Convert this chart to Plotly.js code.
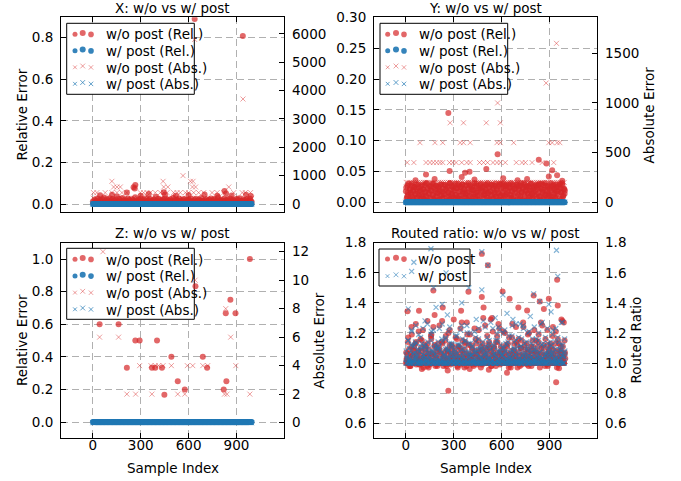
<!DOCTYPE html>
<html><head><meta charset="utf-8">
<script src="https://cdn.plot.ly/plotly-3.0.1.min.js"></script>
<style>html,body{margin:0;padding:0;background:#fff}</style>
</head><body><div id="chart" style="width:681px;height:481px"></div>
<script>
// ---------------- DATA ----------------
const xTickVals = [0, 300, 600, 900];
const panelTitles = ['X: w/o vs w/ post', 'Y: w/o vs w/ post', 'Z: w/o vs w/ post', 'Routed ratio: w/o vs w/ post'];

// sample indices for the dense clouds
const sampleIdx = [
0,5,10,15,20,25,30,35,40,45,50,55,60,65,70,75,80,85,90,95,
100,105,110,115,120,125,130,135,140,145,150,155,160,165,170,175,180,185,190,195,
200,205,210,215,220,225,230,235,240,245,250,255,260,265,270,275,280,285,290,295,
300,305,310,315,320,325,330,335,340,345,350,355,360,365,370,375,380,385,390,395,
400,405,410,415,420,425,430,435,440,445,450,455,460,465,470,475,480,485,490,495,
500,505,510,515,520,525,530,535,540,545,550,555,560,565,570,575,580,585,590,595,
600,605,610,615,620,625,630,635,640,645,650,655,660,665,670,675,680,685,690,695,
700,705,710,715,720,725,730,735,740,745,750,755,760,765,770,775,780,785,790,795,
800,805,810,815,820,825,830,835,840,845,850,855,860,865,870,875,880,885,890,895,
900,905,910,915,920,925,930,935,940,945,950,955,960,965,970,975,980,985,990,995];
const sampleIdxB = [
2,7,12,17,22,27,32,37,42,47,52,57,62,67,72,77,82,87,92,97,
102,107,112,117,122,127,132,137,142,147,152,157,162,167,172,177,182,187,192,197,
202,207,212,217,222,227,232,237,242,247,252,257,262,267,272,277,282,287,292,297,
302,307,312,317,322,327,332,337,342,347,352,357,362,367,372,377,382,387,392,397,
402,407,412,417,422,427,432,437,442,447,452,457,462,467,472,477,482,487,492,497,
502,507,512,517,522,527,532,537,542,547,552,557,562,567,572,577,582,587,592,597,
602,607,612,617,622,627,632,637,642,647,652,657,662,667,672,677,682,687,692,697,
702,707,712,717,722,727,732,737,742,747,752,757,762,767,772,777,782,787,792,797,
802,807,812,817,822,827,832,837,842,847,852,857,862,867,872,877,882,887,892,897,
902,907,912,917,922,927,932,937,942,947,952,957,962,967,972,977,982,987,992,997];
const sampleIdxC = [
4,9,14,19,24,29,34,39,44,49,54,59,64,69,74,79,84,89,94,99,
104,109,114,119,124,129,134,139,144,149,154,159,164,169,174,179,184,189,194,199,
204,209,214,219,224,229,234,239,244,249,254,259,264,269,274,279,284,289,294,299,
304,309,314,319,324,329,334,339,344,349,354,359,364,369,374,379,384,389,394,399,
404,409,414,419,424,429,434,439,444,449,454,459,464,469,474,479,484,489,494,499,
504,509,514,519,524,529,534,539,544,549,554,559,564,569,574,579,584,589,594,599,
604,609,614,619,624,629,634,639,644,649,654,659,664,669,674,679,684,689,694,699,
704,709,714,719,724,729,734,739,744,749,754,759,764,769,774,779,784,789,794,799,
804,809,814,819,824,829,834,839,844,849,854,859,864,869,874,879,884,889,894,899,
904,909,914,919,924,929,934,939,944,949,954,959,964,969,974,979,984,989,994,999];

// w/ post errors (Rel. and Abs.) are all zero
const wPostErr = [
0,0,0,0,0,0,0,0,0,0,0,0,0,0,0,0,0,0,0,0, 0,0,0,0,0,0,0,0,0,0,0,0,0,0,0,0,0,0,0,0,
0,0,0,0,0,0,0,0,0,0,0,0,0,0,0,0,0,0,0,0, 0,0,0,0,0,0,0,0,0,0,0,0,0,0,0,0,0,0,0,0,
0,0,0,0,0,0,0,0,0,0,0,0,0,0,0,0,0,0,0,0, 0,0,0,0,0,0,0,0,0,0,0,0,0,0,0,0,0,0,0,0,
0,0,0,0,0,0,0,0,0,0,0,0,0,0,0,0,0,0,0,0, 0,0,0,0,0,0,0,0,0,0,0,0,0,0,0,0,0,0,0,0,
0,0,0,0,0,0,0,0,0,0,0,0,0,0,0,0,0,0,0,0, 0,0,0,0,0,0,0,0,0,0,0,0,0,0,0,0,0,0,0,0];

// X: w/o post relative error
const xRelWo = [
0.012,0.004,0.021,0.008,0.017,0.003,0.026,0.011,0.006,0.019,0.014,0.002,0.023,0.009,0.031,0.005,0.016,0.010,0.022,0.007,
0.013,0.028,0.004,0.018,0.009,0.024,0.001,0.015,0.020,0.006,0.036,0.012,0.008,0.025,0.003,0.017,0.011,0.029,0.005,0.014,
0.021,0.007,0.016,0.010,0.027,0.004,0.019,0.013,0.008,0.023,0.002,0.018,0.011,0.032,0.006,0.015,0.009,0.022,0.013,0.004,
0.026,0.010,0.017,0.005,0.020,0.012,0.008,0.028,0.003,0.016,0.019,0.007,0.024,0.011,0.014,0.004,0.021,0.009,0.018,0.035,
0.006,0.013,0.025,0.010,0.002,0.019,0.015,0.007,0.022,0.012,0.027,0.005,0.017,0.009,0.020,0.014,0.003,0.023,0.011,0.016,
0.008,0.030,0.012,0.005,0.018,0.021,0.009,0.014,0.026,0.004,0.016,0.011,0.019,0.007,0.024,0.013,0.002,0.020,0.010,0.017,
0.022,0.006,0.015,0.027,0.009,0.013,0.004,0.019,0.012,0.025,0.007,0.017,0.010,0.021,0.003,0.016,0.029,0.008,0.014,0.011,
0.018,0.005,0.023,0.012,0.016,0.009,0.020,0.003,0.026,0.014,0.007,0.019,0.011,0.024,0.006,0.015,0.010,0.033,0.004,0.017,
0.013,0.021,0.008,0.016,0.002,0.025,0.011,0.018,0.006,0.022,0.014,0.009,0.027,0.004,0.017,0.012,0.020,0.007,0.015,0.010,
0.024,0.003,0.019,0.011,0.028,0.007,0.016,0.013,0.005,0.021,0.010,0.018,0.004,0.023,0.012,0.015,0.008,0.026,0.014,0.009];
const xRelOutIdx = [45,120,213,255,262,266,300,350,444,452,520,600,638,700,780,825,835,870,940,960,990];
const xRelOutVal = [0.042,0.045,0.055,0.080,0.075,0.091,0.040,0.048,0.056,0.045,0.040,0.043,0.890,0.046,0.040,0.062,0.050,0.041,0.808,0.045,0.038];
// X: w/o post absolute error (non-zero samples)
const xAbsIdx = [
3,20,38,55,70,88,105,133,160,178,196,220,240,258,280,305,325,347,370,398,415,430,455,478,500,520,540,560,588,610,650,672,700,720,740,765,800,830,860,890,910,925,950,975,995,
4,25,77,119,151,182,213,297,318,339,360,391,423,444,465,506,528,548,580,600,632,663,695,747,779,820,883,936,956,988,
130,151,172,266,444,470,624,644,852,
119,440,612,628,
565,941,638];
const xAbsVal = [
200,200,200,200,200,200,200,200,200,200,200,200,200,200,200,200,200,200,200,200,200,200,200,200,200,200,200,200,200,200,200,200,200,200,200,200,200,200,200,200,200,200,200,200,200,
400,400,400,400,400,400,400,400,400,400,400,400,400,400,400,400,400,400,400,400,400,400,400,400,400,400,400,400,400,400,
600,600,600,600,600,600,600,600,600,
800,800,800,800,
1000,3700,5800];

// Y: w/o post relative error
const yRelWo = [
0.018,0.006,0.027,0.012,0.003,0.022,0.015,0.030,0.009,0.020,0.004,0.025,0.013,0.029,0.007,0.017,0.024,0.002,0.019,0.011,
0.028,0.010,0.021,0.005,0.016,0.031,0.008,0.023,0.014,0.001,0.026,0.019,0.006,0.030,0.012,0.024,0.003,0.018,0.027,0.009,
0.015,0.025,0.004,0.020,0.029,0.011,0.017,0.007,0.028,0.013,0.022,0.002,0.026,0.016,0.009,0.031,0.005,0.021,0.014,0.024,
0.007,0.019,0.030,0.012,0.023,0.003,0.027,0.010,0.018,0.025,0.006,0.029,0.015,0.021,0.008,0.013,0.028,0.004,0.022,0.017,
0.026,0.002,0.014,0.024,0.009,0.020,0.031,0.006,0.016,0.027,0.011,0.019,0.003,0.023,0.030,0.010,0.017,0.025,0.007,0.013,
0.021,0.028,0.008,0.015,0.025,0.005,0.018,0.029,0.012,0.004,0.022,0.016,0.027,0.009,0.020,0.002,0.026,0.014,0.030,0.011,
0.004,0.017,0.023,0.030,0.010,0.026,0.013,0.001,0.019,0.028,0.007,0.024,0.011,0.018,0.029,0.006,0.021,0.015,0.003,0.025,
0.029,0.012,0.020,0.007,0.027,0.016,0.003,0.022,0.031,0.009,0.018,0.025,0.005,0.014,0.026,0.019,0.010,0.030,0.013,0.008,
0.016,0.024,0.002,0.027,0.013,0.021,0.028,0.010,0.005,0.023,0.030,0.015,0.020,0.008,0.012,0.027,0.004,0.018,0.024,0.011,
0.022,0.009,0.026,0.017,0.004,0.029,0.014,0.020,0.011,0.025,0.003,0.019,0.028,0.006,0.023,0.016,0.031,0.009,0.021,0.014];
const yRelWoB = [
0.024,0.009,0.016,0.030,0.003,0.020,0.012,0.027,0.006,0.018,0.025,0.001,0.014,0.022,0.008,0.029,0.011,0.019,0.004,0.026,
0.013,0.021,0.005,0.028,0.017,0.010,0.031,0.002,0.023,0.015,0.007,0.026,0.019,0.012,0.030,0.004,0.021,0.009,0.027,0.016,
0.003,0.025,0.018,0.011,0.029,0.006,0.022,0.014,0.001,0.028,0.020,0.008,0.024,0.016,0.005,0.031,0.013,0.026,0.010,0.019,
0.027,0.004,0.012,0.023,0.008,0.030,0.017,0.005,0.025,0.011,0.029,0.018,0.002,0.021,0.014,0.027,0.007,0.015,0.031,0.006,
0.010,0.028,0.021,0.003,0.019,0.013,0.026,0.009,0.030,0.016,0.004,0.023,0.011,0.028,0.020,0.001,0.025,0.012,0.017,0.029,
0.018,0.007,0.031,0.015,0.024,0.002,0.012,0.028,0.019,0.006,0.027,0.013,0.030,0.009,0.022,0.016,0.004,0.029,0.010,0.023,
0.030,0.014,0.006,0.026,0.011,0.021,0.029,0.016,0.003,0.024,0.012,0.031,0.007,0.019,0.027,0.010,0.023,0.001,0.028,0.015,
0.005,0.022,0.027,0.010,0.031,0.017,0.004,0.025,0.013,0.029,0.020,0.003,0.026,0.015,0.008,0.024,0.030,0.018,0.006,0.021,
0.026,0.011,0.019,0.029,0.006,0.024,0.015,0.030,0.009,0.002,0.022,0.017,0.028,0.005,0.031,0.012,0.020,0.027,0.014,0.003,
0.012,0.031,0.004,0.020,0.027,0.009,0.023,0.007,0.029,0.018,0.014,0.025,0.001,0.030,0.016,0.006,0.028,0.011,0.022,0.019];
const yRelOutIdx = [60,126,180,266,274,350,371,399,430,504,575,610,700,760,833,881,896,917,948,980];
const yRelOutVal = [0.036,0.045,0.038,0.145,0.051,0.041,0.048,0.0495,0.037,0.054,0.078,0.039,0.036,0.038,0.069,0.063,0.042,0.052,0.044,0.035];
// Y: w/o post absolute error (non-zero samples)
const yAbsIdx = [
2,12,25,37,48,60,72,85,97,110,120,133,145,158,170,182,195,205,218,230,242,255,268,280,292,305,318,330,342,355,368,380,393,405,418,430,442,455,468,480,
492,505,518,530,542,555,568,580,593,605,618,630,643,655,668,680,692,705,718,730,742,755,768,780,793,805,818,830,843,855,868,880,893,905,918,930,943,955,968,980,993,
8,50,126,151,172,193,214,231,273,294,315,350,382,403,462,487,512,546,571,592,623,692,728,749,791,854,927,
88,182,231,340,361,403,571,592,676,896,917,948,965,
277,361,504,592,
575,273,879,944];
const yAbsVal = [
200,200,200,200,200,200,200,200,200,200,200,200,200,200,200,200,200,200,200,200,200,200,200,200,200,200,200,200,200,200,200,200,200,200,200,200,200,200,200,200,
200,200,200,200,200,200,200,200,200,200,200,200,200,200,200,200,200,200,200,200,200,200,200,200,200,200,200,200,200,200,200,200,200,200,200,200,200,200,200,200,200,
400,400,400,400,400,400,400,400,400,400,400,400,400,400,400,400,400,400,400,400,400,400,400,400,400,400,400,
600,600,600,600,600,600,600,600,600,600,600,600,600,
800,800,800,800,
1000,1200,1200,1600];

// Z: w/o post errors (non-zero samples)
const zRelIdx = [42,161,213,266,293,370,391,402,433,448,492,532,576,643,689,716,820,833,837,862,894,984];
const zRelVal = [0.6,0.6,0.333,0.5,0.5,0.333,0.333,0.5,0.333,0.167,0.4,0.25,0.2,0.833,0.4,0.333,0.2,0.667,0.25,0.75,0.667,1.0];
const zAbsIdx = [42,63,161,213,268,293,364,370,391,412,440,492,532,576,592,626,641,689,720,825,833,841,864,896,984];
const zAbsVal = [6,12,6,2,2,4,4,2,4,4,4,4,2,2,4,4,10,4,4,2,8,2,6,4,2];

// Routed ratio, w/o post (at sampleIdx, sampleIdxB, sampleIdxC)
const ratioWo = [
1.00,1.03,1.00,1.17,0.98,1.00,1.06,1.24,1.00,1.09,1.01,1.00,1.13,0.99,1.05,1.00,1.21,1.02,1.00,1.08,
1.15,1.00,0.97,1.04,1.00,1.11,1.00,1.28,1.06,1.00,0.99,1.02,1.19,1.00,1.07,1.00,1.12,0.98,1.03,1.00,
1.00,1.09,1.25,1.00,1.01,1.14,1.00,0.98,1.05,1.00,1.18,1.00,1.03,1.08,1.00,1.22,0.99,1.00,1.11,1.04,
1.02,1.00,1.07,1.00,1.16,0.97,1.00,1.04,1.10,1.00,1.27,1.01,1.00,1.06,1.13,1.00,0.98,1.19,1.00,1.03,
1.00,1.12,1.00,1.05,0.99,1.00,1.23,1.08,1.00,1.02,1.00,1.15,1.04,1.00,0.97,1.09,1.00,1.30,1.01,1.00,
1.06,1.00,1.18,1.00,1.03,1.10,1.00,0.98,1.00,1.21,1.05,1.00,1.01,1.14,1.00,1.07,1.26,1.00,0.99,1.11,
1.00,1.04,1.00,1.09,1.20,1.00,1.02,1.00,1.13,0.97,1.00,1.06,1.00,1.17,1.03,1.00,1.08,1.00,1.24,1.01,
1.12,1.00,1.05,0.98,1.00,1.15,1.00,1.27,1.03,1.00,1.09,1.00,0.99,1.19,1.00,1.04,1.00,1.11,1.06,1.00,
1.00,1.22,1.01,1.00,1.07,1.00,1.14,1.03,0.97,1.00,1.10,1.25,1.00,1.02,1.00,1.16,1.05,1.00,0.98,1.08,
1.03,1.00,1.11,1.00,1.18,1.06,1.00,1.00,1.21,1.01,1.00,0.99,1.13,1.00,1.08,1.29,1.00,1.04,1.00,1.15];
const ratioWoB = [
1.07,1.00,1.14,1.00,1.02,0.98,1.00,1.19,1.05,1.00,1.11,1.00,1.26,1.03,1.00,1.08,0.99,1.00,1.16,1.01,
1.00,1.22,1.04,1.00,1.09,1.00,1.02,1.13,0.97,1.00,1.06,1.18,1.00,1.01,1.24,1.00,1.05,1.00,1.10,0.98,
1.13,1.00,1.01,1.07,1.00,1.28,1.00,1.04,1.00,1.15,0.99,1.09,1.00,1.20,1.02,1.00,1.06,1.12,1.00,1.00,
1.00,1.05,1.17,1.00,0.98,1.02,1.11,1.00,1.23,1.00,1.08,1.00,1.03,0.97,1.14,1.00,1.27,1.01,1.00,1.06,
1.19,1.00,1.04,1.10,1.00,1.01,1.00,1.16,1.06,0.99,1.00,1.22,1.00,1.08,1.03,1.00,1.13,1.00,1.05,1.25,
1.00,1.09,1.00,1.02,1.14,1.00,1.29,0.98,1.00,1.07,1.11,1.00,1.04,1.00,1.18,1.01,1.00,1.23,1.06,1.00,
1.04,1.00,1.21,1.00,1.06,1.12,1.00,1.01,1.00,1.17,1.03,0.97,1.00,1.26,1.00,1.09,1.00,1.05,1.14,1.00,
1.00,1.16,1.02,1.00,1.10,0.99,1.00,1.24,1.05,1.00,1.01,1.13,1.00,1.07,1.20,1.00,1.03,0.98,1.00,1.11,
1.08,1.00,1.00,1.15,1.03,1.00,1.19,1.00,1.06,1.27,1.00,1.02,1.12,1.00,0.98,1.05,1.00,1.22,1.00,1.09,
1.00,1.13,1.05,1.00,1.24,1.00,1.02,1.08,1.00,0.97,1.16,1.00,1.04,1.00,1.11,1.00,1.28,1.03,1.00,1.07];
const ratioWoC = [
1.02,1.06,1.00,1.09,1.03,0.98,1.11,1.01,1.05,1.00,1.08,1.02,1.14,1.04,1.00,1.07,1.01,0.99,1.10,1.03,
1.05,1.00,1.12,1.02,1.07,1.01,0.98,1.04,1.09,1.00,1.03,1.16,1.01,1.06,1.00,1.11,1.02,1.05,0.99,1.08,
1.01,1.10,1.03,1.00,1.06,1.13,1.02,1.00,1.04,1.08,0.98,1.01,1.07,1.03,1.12,1.00,1.05,1.09,1.02,1.00,
1.08,1.02,1.00,1.05,1.11,1.00,1.03,1.07,0.99,1.02,1.15,1.04,1.00,1.09,1.01,1.06,1.00,1.03,1.12,1.05,
1.00,1.04,1.09,1.01,0.98,1.06,1.02,1.13,1.00,1.05,1.08,1.00,1.03,1.11,1.02,0.99,1.07,1.01,1.04,1.10,
1.03,1.00,1.06,1.12,1.02,1.00,1.08,1.04,1.01,1.00,1.10,1.05,0.98,1.03,1.14,1.00,1.02,1.07,1.01,1.05,
1.09,1.01,1.03,1.00,1.07,1.02,1.11,1.00,1.05,1.03,0.99,1.08,1.02,1.00,1.06,1.13,1.01,1.04,1.00,1.02,
1.00,1.07,1.02,1.10,1.00,1.04,1.01,1.06,1.12,1.00,1.03,1.05,1.09,0.98,1.02,1.00,1.08,1.03,1.15,1.01,
1.04,1.00,1.08,1.02,1.05,1.11,1.00,1.03,1.01,1.07,1.00,1.02,1.10,1.04,1.00,1.06,0.99,1.12,1.02,1.05,
1.01,1.06,1.00,1.04,1.09,1.02,1.00,1.13,1.03,1.05,1.01,1.08,1.00,1.02,1.07,1.04,1.11,1.00,1.06,1.03];
// Routed ratio, w/ post (at sampleIdx, sampleIdxB, sampleIdxC)
const ratioW = [
1.00,1.04,1.00,1.15,1.00,1.02,1.08,1.22,1.00,1.11,1.00,1.03,1.14,1.00,1.06,1.00,1.19,1.01,1.00,1.09,
1.13,1.00,1.00,1.05,1.02,1.12,1.00,1.26,1.07,1.00,1.00,1.03,1.21,1.00,1.08,1.01,1.10,1.00,1.04,1.00,
1.01,1.10,1.23,1.00,1.00,1.16,1.02,1.00,1.06,1.00,1.17,1.00,1.04,1.09,1.00,1.24,1.00,1.01,1.12,1.05,
1.03,1.00,1.08,1.00,1.18,1.00,1.01,1.05,1.12,1.00,1.25,1.02,1.00,1.07,1.14,1.00,1.00,1.20,1.01,1.04,
1.00,1.13,1.01,1.06,1.00,1.00,1.21,1.09,1.00,1.03,1.00,1.16,1.05,1.00,1.00,1.10,1.02,1.28,1.00,1.00,
1.07,1.00,1.17,1.01,1.04,1.11,1.00,1.00,1.02,1.23,1.06,1.00,1.00,1.15,1.01,1.08,1.24,1.00,1.00,1.12,
1.01,1.05,1.00,1.10,1.22,1.00,1.03,1.00,1.14,1.00,1.02,1.07,1.00,1.18,1.04,1.00,1.09,1.01,1.26,1.00,
1.11,1.00,1.06,1.00,1.01,1.16,1.00,1.25,1.04,1.00,1.10,1.02,1.00,1.20,1.00,1.05,1.01,1.13,1.07,1.00,
1.00,1.24,1.02,1.00,1.08,1.01,1.15,1.04,1.00,1.00,1.12,1.27,1.00,1.03,1.00,1.17,1.06,1.01,1.00,1.09,
1.04,1.00,1.12,1.01,1.19,1.07,1.00,1.02,1.23,1.00,1.00,1.00,1.14,1.01,1.09,1.27,1.00,1.05,1.00,1.16];
const ratioWB = [
1.08,1.00,1.15,1.01,1.03,1.00,1.00,1.21,1.06,1.00,1.12,1.02,1.25,1.04,1.00,1.09,1.00,1.01,1.17,1.02,
1.00,1.23,1.05,1.00,1.10,1.01,1.03,1.14,1.00,1.00,1.07,1.19,1.02,1.00,1.22,1.00,1.06,1.01,1.11,1.00,
1.14,1.00,1.02,1.08,1.00,1.26,1.01,1.05,1.00,1.16,1.00,1.10,1.00,1.21,1.03,1.00,1.07,1.13,1.01,1.00,
1.00,1.06,1.18,1.00,1.00,1.03,1.12,1.01,1.22,1.00,1.09,1.00,1.04,1.00,1.15,1.02,1.25,1.00,1.00,1.07,
1.20,1.00,1.05,1.11,1.01,1.02,1.00,1.17,1.07,1.00,1.00,1.23,1.01,1.09,1.04,1.00,1.14,1.00,1.06,1.24,
1.01,1.10,1.00,1.03,1.15,1.00,1.27,1.00,1.02,1.08,1.12,1.00,1.05,1.00,1.19,1.02,1.00,1.22,1.07,1.00,
1.05,1.01,1.20,1.00,1.07,1.13,1.00,1.02,1.00,1.18,1.04,1.00,1.01,1.25,1.00,1.10,1.00,1.06,1.15,1.01,
1.00,1.17,1.03,1.00,1.11,1.00,1.02,1.23,1.06,1.00,1.02,1.14,1.00,1.08,1.21,1.00,1.04,1.00,1.01,1.12,
1.09,1.00,1.01,1.16,1.04,1.00,1.20,1.00,1.07,1.26,1.00,1.03,1.13,1.01,1.00,1.06,1.00,1.23,1.02,1.10,
1.00,1.14,1.06,1.00,1.22,1.01,1.03,1.09,1.00,1.00,1.17,1.02,1.05,1.00,1.12,1.00,1.27,1.04,1.00,1.08];
const ratioWC = [
1.03,1.05,1.01,1.10,1.02,1.00,1.12,1.02,1.06,1.01,1.07,1.03,1.13,1.05,1.00,1.08,1.02,1.00,1.11,1.04,
1.06,1.01,1.11,1.03,1.08,1.02,1.00,1.05,1.10,1.01,1.04,1.15,1.02,1.07,1.00,1.12,1.03,1.06,1.00,1.09,
1.02,1.11,1.04,1.01,1.07,1.14,1.03,1.00,1.05,1.09,1.00,1.02,1.08,1.04,1.13,1.01,1.06,1.10,1.03,1.00,
1.09,1.03,1.01,1.06,1.12,1.00,1.04,1.08,1.00,1.03,1.16,1.05,1.01,1.10,1.02,1.07,1.00,1.04,1.13,1.06,
1.01,1.05,1.10,1.02,1.00,1.07,1.03,1.14,1.01,1.06,1.09,1.00,1.04,1.12,1.03,1.00,1.08,1.02,1.05,1.11,
1.04,1.01,1.07,1.13,1.03,1.00,1.09,1.05,1.02,1.00,1.11,1.06,1.00,1.04,1.15,1.01,1.03,1.08,1.02,1.06,
1.10,1.02,1.04,1.00,1.08,1.03,1.12,1.01,1.06,1.04,1.00,1.09,1.03,1.01,1.07,1.14,1.02,1.05,1.00,1.03,
1.01,1.08,1.03,1.11,1.00,1.05,1.02,1.07,1.13,1.01,1.04,1.06,1.10,1.00,1.03,1.01,1.09,1.04,1.16,1.02,
1.05,1.01,1.09,1.03,1.06,1.12,1.00,1.04,1.02,1.08,1.01,1.03,1.11,1.05,1.00,1.07,1.00,1.13,1.03,1.06,
1.02,1.07,1.01,1.05,1.10,1.03,1.00,1.14,1.04,1.06,1.02,1.09,1.01,1.03,1.08,1.05,1.12,1.00,1.07,1.04];
const ratioWoOutIdx = [10,82,100,172,180,231,262,266,300,346,392,400,476,476,487,514,520,540,606,634,650,700,705,760,801,839,865,896,942,948,952,960,990];
const ratioWoOutVal = [1.345,1.348,0.96,1.482,1.32,1.37,0.95,0.816,1.29,1.348,1.474,0.96,1.726,1.44,1.37,1.65,0.955,1.30,1.476,0.935,1.427,0.97,1.37,1.35,1.449,1.41,1.36,1.427,0.872,1.554,1.382,0.965,1.27];
const ratioWOutIdx = [15,36,50,120,157,174,189,227,252,260,350,395,441,476,476,514,560,608,634,671,717,780,801,839,896,910,944,952];
const ratioWOutVal = [1.36,1.61,1.67,1.28,1.76,1.50,1.37,1.39,1.60,1.32,1.40,1.50,1.29,1.74,1.487,1.65,1.30,1.453,1.33,1.29,1.26,1.31,1.46,1.41,1.39,1.34,1.75,1.576];

// ---------------- STYLE / LAYOUT ----------------
const FONT = 'DejaVu Sans';
const FS = 13.5;
const RED = '214,39,40', BLUE = '31,119,180';
const W = 681, H = 481;
const XR = [-200, 1200];
const YR = {tl:[-0.0385, 0.898], tl2:[-282, 6581], tr:[-0.0157, 0.3001], tr2:[-97.7, 1862],
            bl:[-0.1, 1.1], bl2:[-1.1, 12.63], br:[0.5, 1.8001]};

function dots(x, y, xa, ya, rgb, a, size) {
  return {type:'scatter', mode:'markers', x:x, y:y, xaxis:xa, yaxis:ya, hoverinfo:'skip', showlegend:false,
    marker:{color:'rgba('+rgb+','+a+')', size:size, line:{width:0}}};
}
function crosses(x, y, xa, ya, rgb, a, size, lw) {
  return {type:'scatter', mode:'markers', x:x, y:y, xaxis:xa, yaxis:ya, hoverinfo:'skip', showlegend:false,
    marker:{symbol:'x-thin-open', color:'rgba('+rgb+','+a+')', size:size, line:{width:lw, color:'rgba('+rgb+','+a+')'}}};
}

const traces = [
  // X panel
  dots(sampleIdx, xRelWo, 'x', 'y', RED, 0.7, 6),
  dots(xRelOutIdx, xRelOutVal, 'x', 'y', RED, 0.7, 6),
  dots(sampleIdx, wPostErr, 'x', 'y', BLUE, 0.9, 6),
  crosses(xAbsIdx, xAbsVal, 'x', 'y2', RED, 0.45, 5, 1),
  crosses(sampleIdx, wPostErr, 'x', 'y2', BLUE, 0.7, 5, 1),
  // Y panel
  dots(sampleIdx, yRelWo, 'x2', 'y3', RED, 0.7, 6),
  dots(sampleIdxB, yRelWoB, 'x2', 'y3', RED, 0.7, 6),
  dots(yRelOutIdx, yRelOutVal, 'x2', 'y3', RED, 0.7, 6),
  dots(sampleIdx, wPostErr, 'x2', 'y3', BLUE, 0.9, 6),
  crosses(yAbsIdx, yAbsVal, 'x2', 'y4', RED, 0.45, 5, 1),
  crosses(sampleIdx, wPostErr, 'x2', 'y4', BLUE, 0.7, 5, 1),
  // Z panel
  dots(zRelIdx, zRelVal, 'x3', 'y5', RED, 0.7, 6),
  dots(sampleIdx, wPostErr, 'x3', 'y5', BLUE, 0.9, 6),
  crosses(zAbsIdx, zAbsVal, 'x3', 'y6', RED, 0.45, 5, 1),
  crosses(sampleIdx, wPostErr, 'x3', 'y6', BLUE, 0.7, 5, 1),
  // Routed ratio panel
  dots(sampleIdx, ratioWo, 'x4', 'y7', RED, 0.7, 6),
  dots(sampleIdxB, ratioWoB, 'x4', 'y7', RED, 0.7, 6),
  dots(sampleIdxC, ratioWoC, 'x4', 'y7', RED, 0.7, 6),
  dots(ratioWoOutIdx, ratioWoOutVal, 'x4', 'y7', RED, 0.7, 6),
  crosses(sampleIdx, ratioW, 'x4', 'y8', BLUE, 0.55, 5, 1.2),
  crosses(sampleIdxB, ratioWB, 'x4', 'y8', BLUE, 0.55, 5, 1.2),
  crosses(sampleIdxC, ratioWC, 'x4', 'y8', BLUE, 0.55, 5, 1.2),
  crosses(ratioWOutIdx, ratioWOutVal, 'x4', 'y8', BLUE, 0.55, 5, 1.2)
];

// panel pixel boxes
const P = {
  tl:{L:61, R:284.3, T:17.3, B:212, xr:'x', yr:'y', yrange:YR.tl},
  tr:{L:374, R:597.3, T:17.3, B:212, xr:'x2', yr:'y3', yrange:YR.tr},
  bl:{L:61, R:284.3, T:242.7, B:438.3, xr:'x3', yr:'y5', yrange:YR.bl},
  br:{L:374, R:597.3, T:242.7, B:438.3, xr:'x4', yr:'y7', yrange:YR.br}
};
const LX = [P.tl.L/W, P.tl.R/W], RX = [P.tr.L/W, P.tr.R/W];
const TY = [1 - P.tl.B/H, 1 - P.tl.T/H], BY = [1 - P.bl.B/H, 1 - P.bl.T/H];

const tickfont = {family:FONT, size:FS, color:'#000'};
function xax(domain, anchor, labels) {
  return {domain:domain, anchor:anchor, range:XR, tickmode:'array', tickvals:xTickVals,
    ticktext:xTickVals.map(String), showticklabels:labels, ticks:'inside', ticklen:5, tickwidth:1, tickcolor:'#000',
    showline:true, linecolor:'#000', linewidth:1, mirror:'ticks', zeroline:false,
    showgrid:true, gridcolor:'#b0b0b0', griddash:'7px,4px', gridwidth:1, tickfont:tickfont, ticklabelstandoff:-6};
}
function yleft(domain, anchor, range, dtick, fmt) {
  return {domain:domain, anchor:anchor, range:range, tick0:0, dtick:dtick, tickformat:fmt,
    ticks:'inside', ticklen:5, tickwidth:1, tickcolor:'#000', showline:true, linecolor:'#000', linewidth:1,
    zeroline:false, showgrid:true, gridcolor:'#b0b0b0', griddash:'7px,4px', gridwidth:1, tickfont:tickfont, ticklabelstandoff:4};
}
function yright(over, anchor, range, dtick, fmt) {
  return {overlaying:over, anchor:anchor, side:'right', range:range, tick0:0, dtick:dtick, tickformat:fmt,
    ticks:'inside', ticklen:5, tickwidth:1, tickcolor:'#000', showline:true, linecolor:'#000', linewidth:1,
    zeroline:false, showgrid:false, tickfont:tickfont, ticklabelstandoff:4};
}

const shapes = [], annotations = [];
function ann(text, px, py, angle, xanchor) {
  annotations.push({text:text, xref:'paper', yref:'paper', x:px/W, y:1 - py/H, showarrow:false,
    xanchor:xanchor || 'center', yanchor:'middle', textangle:angle || 0, font:{family:FONT, size:FS, color:'#000'}});
}
// titles
ann(panelTitles[0], (P.tl.L+P.tl.R)/2, 8);
ann(panelTitles[1], (P.tr.L+P.tr.R)/2, 8);
ann(panelTitles[2], (P.bl.L+P.bl.R)/2, 232.5);
ann(panelTitles[3], (P.br.L+P.br.R)/2, 232.5);
// axis titles
ann('Relative Error', 21.7, 114.7, -90);
ann('Absolute Error', 648.7, 114.7, -90);
ann('Relative Error', 21.5, 340.5, -90);
ann('Absolute Error', 318.3, 340.5, -90);
ann('Routed Ratio', 635, 340.5, -90);
ann('Sample Index', (P.bl.L+P.bl.R)/2, 467.5);
ann('Sample Index', (P.br.L+P.br.R)/2, 467.5);

// legends (layout decoration, placed by pixel position inside each panel)
function dx(p, px) { return XR[0] + (px - p.L) / (p.R - p.L) * (XR[1] - XR[0]); }
function dy(p, py) { return p.yrange[0] + (p.B - py) / (p.B - p.T) * (p.yrange[1] - p.yrange[0]); }
function legend(p, box, mxs, rows, textX, items) {
  const xref = p.xr, yref = p.yr;
  shapes.push({type:'rect', xref:xref, yref:yref, x0:dx(p, box[0]), x1:dx(p, box[2]), y0:dy(p, box[3]), y1:dy(p, box[1]),
    line:{color:'#000', width:1}, fillcolor:'#fff', layer:'between'});
  const rs = [2.5, 3.0, 2.8], yo = [0.3, -1.0, 0.4];
  items.forEach(function(it, i) {
    mxs.forEach(function(mx, j) {
      const ax = dx(p, mx), ay = dy(p, rows[i] + yo[j]);
      const col = 'rgba(' + it.rgb + ',' + it.a + ')';
      if (it.kind === 'dot') {
        const r = rs[j];
        shapes.push({type:'circle', xref:xref, yref:yref, xsizemode:'pixel', ysizemode:'pixel', xanchor:ax, yanchor:ay,
          x0:-r, x1:r, y0:-r, y1:r, fillcolor:col, line:{width:0}, layer:'between'});
      } else {
        const s = rs[j] - 0.6;
        shapes.push({type:'path', xref:xref, yref:yref, xsizemode:'pixel', ysizemode:'pixel', xanchor:ax, yanchor:ay,
          path:'M' + (-s) + ',' + (-s) + 'L' + s + ',' + s + 'M' + (-s) + ',' + s + 'L' + s + ',' + (-s),
          line:{color:col, width:1}, layer:'between'});
      }
    });
    ann(it.label, textX, rows[i] + 0.5, 0, 'left');
  });
}
const fourItems = [
  {label:'w/o post (Rel.)', kind:'dot', rgb:RED, a:0.7},
  {label:'w/ post (Rel.)', kind:'dot', rgb:BLUE, a:0.9},
  {label:'w/o post (Abs.)', kind:'x', rgb:RED, a:0.45},
  {label:'w/ post (Abs.)', kind:'x', rgb:BLUE, a:0.7}
];
legend(P.tl, [66.7, 23.3, 194.3, 94.3], [75, 82.7, 91], [34, 50.5, 67, 83.5], 103.5, fourItems);
legend(P.tr, [380, 23.3, 507.7, 94.3], [387.7, 396, 404], [34, 50.5, 67, 83.5], 416.5, fourItems);
legend(P.bl, [66.7, 248.3, 194.3, 319.3], [75, 82.7, 91], [259, 275.7, 292.3, 309], 103.5, fourItems);
legend(P.br, [379, 249, 470, 286], [387.5, 396, 404], [258.7, 275.8], 415.5, [
  {label:'w/o post', kind:'dot', rgb:RED, a:0.7},
  {label:'w/ post', kind:'x', rgb:BLUE, a:0.6}
]);

const layout = {
  width:W, height:H, margin:{l:0, r:0, t:0, b:0}, paper_bgcolor:'#fff', plot_bgcolor:'#fff', showlegend:false,
  font:{family:FONT, size:FS, color:'#000'},
  xaxis: xax(LX, 'y', false),
  xaxis2: xax(RX, 'y3', false),
  xaxis3: xax(LX, 'y5', true),
  xaxis4: xax(RX, 'y7', true),
  yaxis: yleft(TY, 'x', YR.tl, 0.2, '.1f'),
  yaxis2: yright('y', 'x', YR.tl2, 1000, 'd'),
  yaxis3: yleft(TY, 'x2', YR.tr, 0.05, '.2f'),
  yaxis4: yright('y3', 'x2', YR.tr2, 500, 'd'),
  yaxis5: yleft(BY, 'x3', YR.bl, 0.2, '.1f'),
  yaxis6: yright('y5', 'x3', YR.bl2, 2, 'd'),
  yaxis7: yleft(BY, 'x4', YR.br, 0.2, '.1f'),
  yaxis8: yright('y7', 'x4', YR.br, 0.2, '.1f'),
  shapes: shapes,
  annotations: annotations
};
Plotly.newPlot('chart', traces, layout, {staticPlot:true, displayModeBar:false});
</script></body></html>
